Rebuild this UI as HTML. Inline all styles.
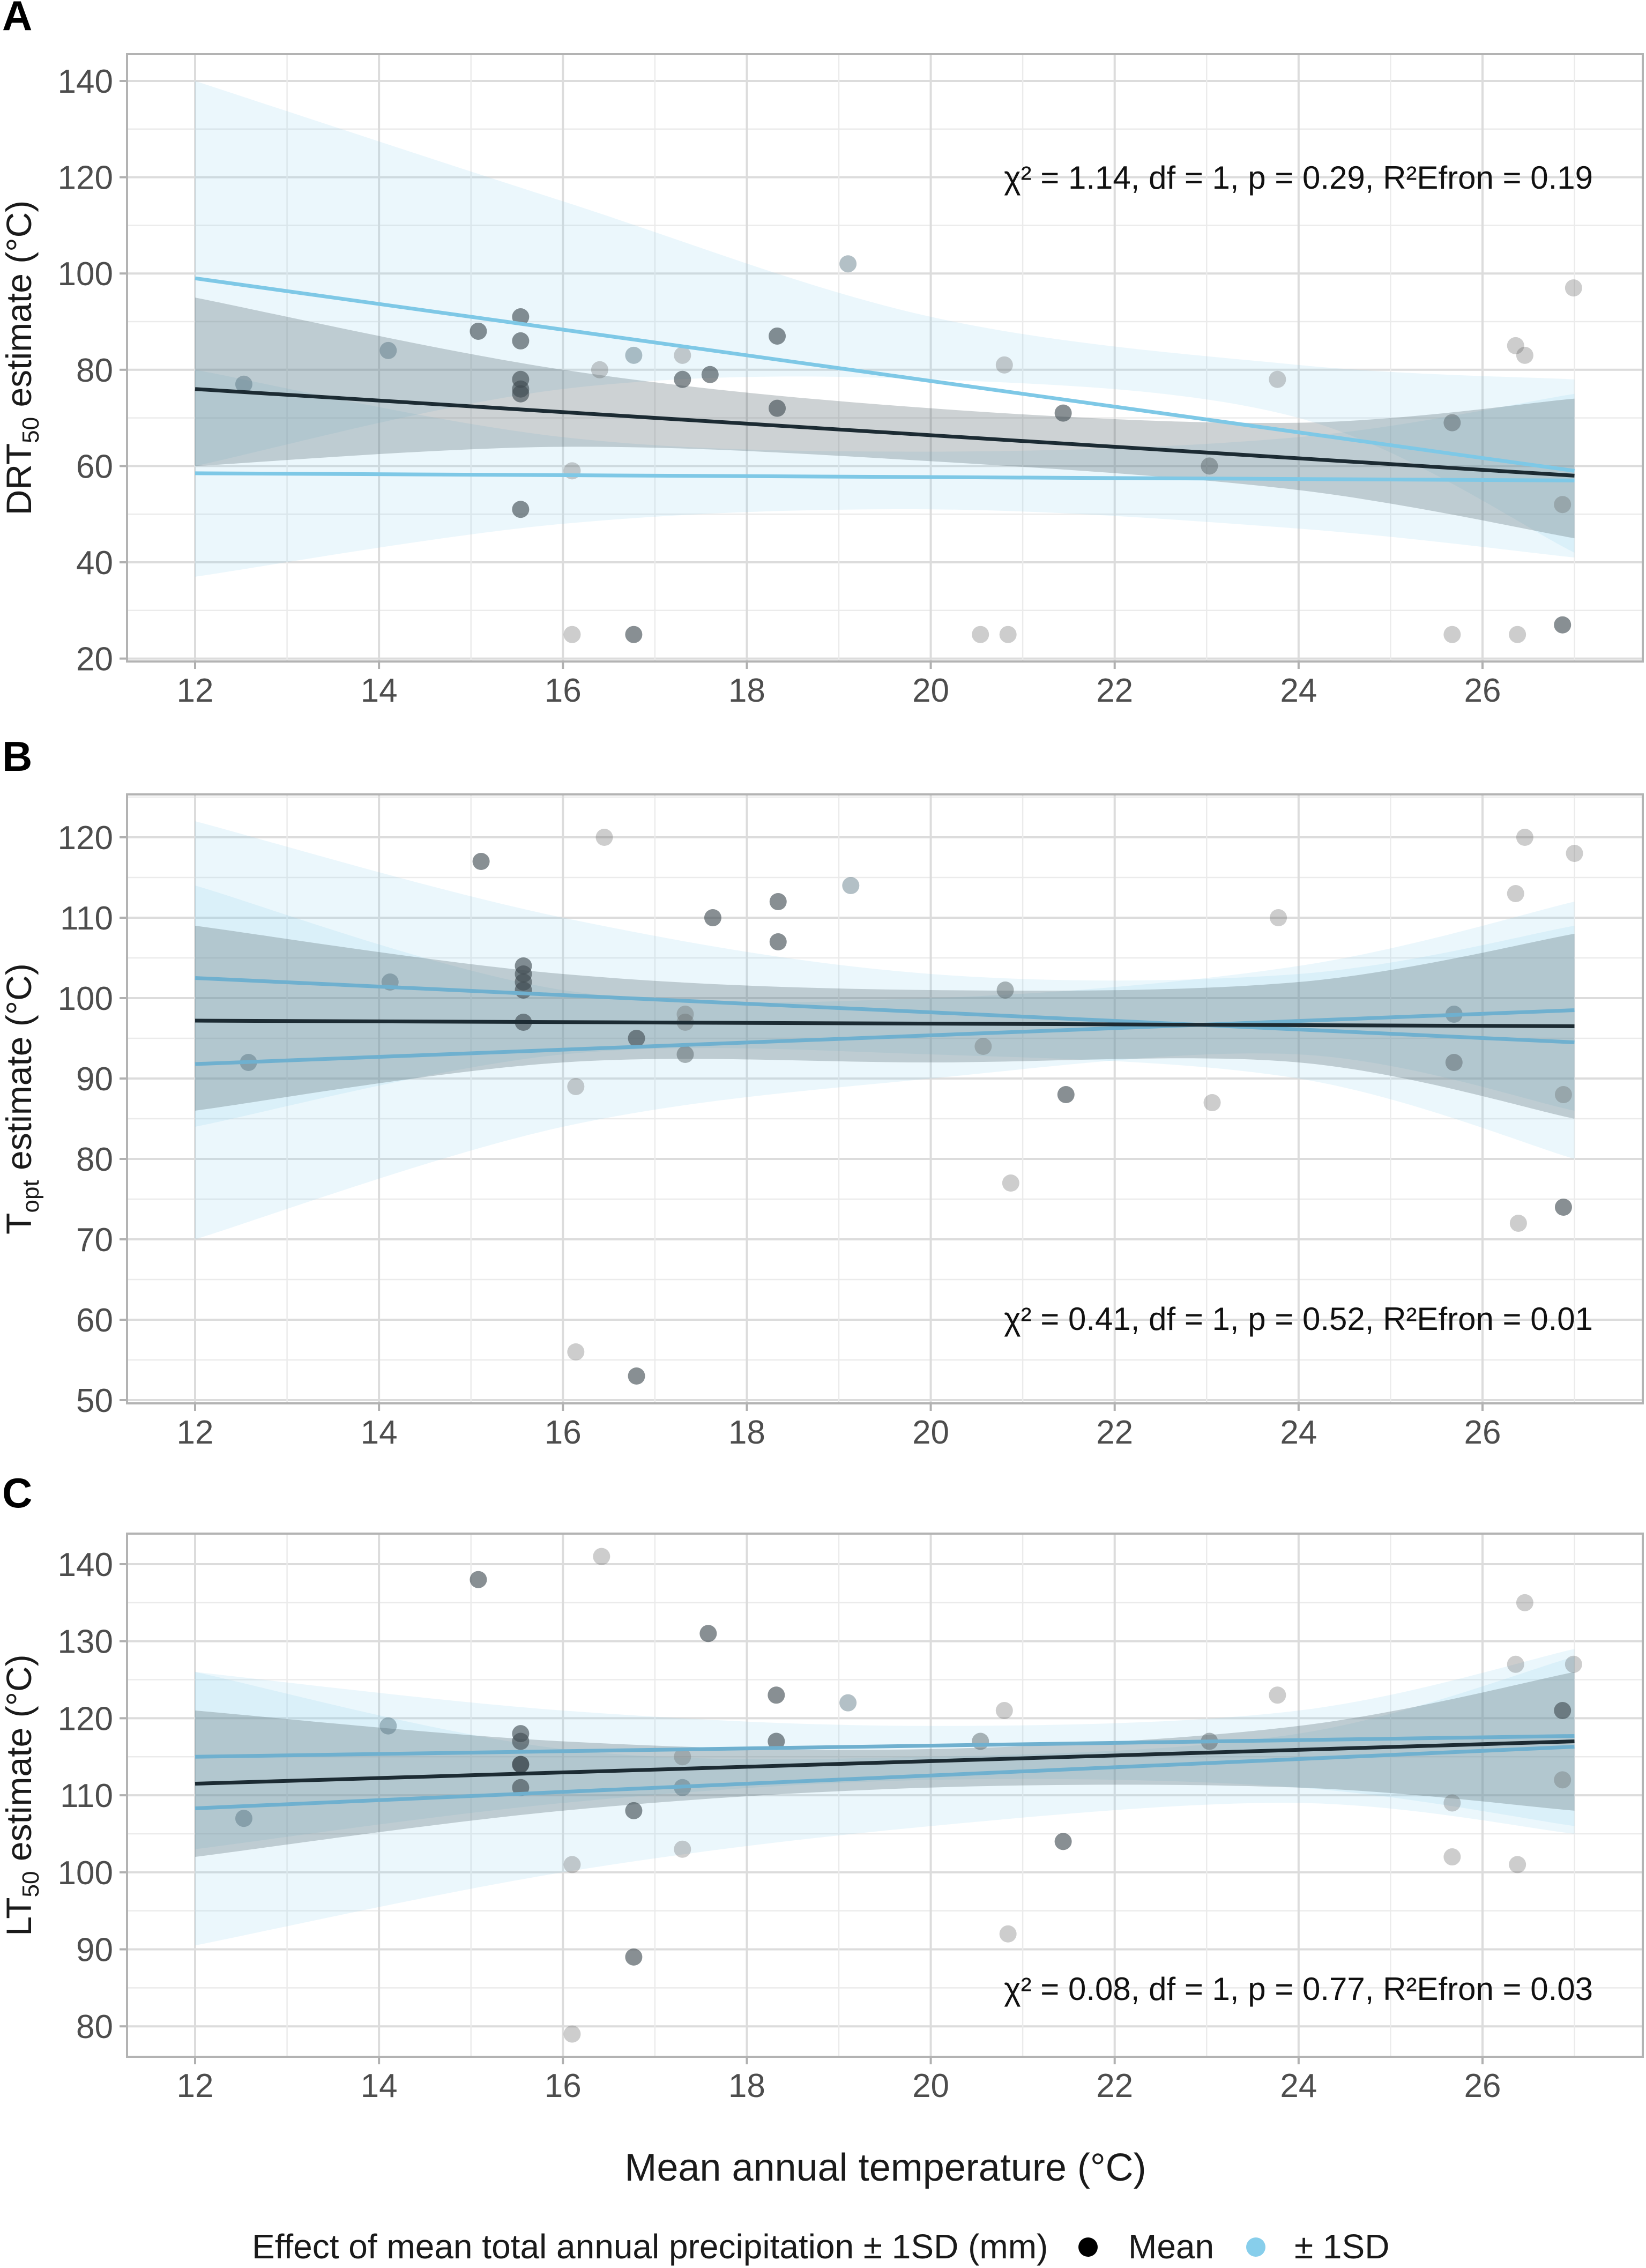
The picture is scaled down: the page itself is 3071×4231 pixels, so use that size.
<!DOCTYPE html>
<html><head><meta charset="utf-8"><style>
html,body{margin:0;padding:0;background:#fff}
svg{display:block;font-family:"Liberation Sans",Arial,sans-serif}
</style></head><body>
<svg id="fig" width="3071" height="4231" viewBox="0 0 3071 4231" xmlns="http://www.w3.org/2000/svg">
<text x="4" y="56" font-size="78" font-weight="bold">A</text>
<text x="4" y="1438" font-size="78" font-weight="bold">B</text>
<text x="4" y="2812" font-size="78" font-weight="bold">C</text>
<text x="1652" y="4068" font-size="72" text-anchor="middle" fill="#1a1a1a">Mean annual temperature (°C)</text>
<g>
<text x="470" y="4213" font-size="64" fill="#1a1a1a">Effect of mean total annual precipitation ± 1SD (mm)</text>
<circle cx="2030" cy="4192" r="18" fill="#000"/>
<text x="2105" y="4213" font-size="64" fill="#1a1a1a">Mean</text>
<circle cx="2343" cy="4192" r="18" fill="#87ceeb"/>
<text x="2415" y="4213" font-size="64" fill="#1a1a1a">± 1SD</text>
</g>
</svg>
<script>
// shared x data
const bandX = [12, 16, 20, 24, 27];
const lineX = [12, 27];
// Panel A
const aX = [12.53,14.1,15.08,15.54,15.54,15.54,15.54,15.54,15.54,16.1,16.1,16.4,16.77,16.77,17.3,17.3,17.6,18.33,18.33,19.1,20.54,20.8,20.84,21.44,23.03,23.77,25.67,25.67,26.36,26.46,26.38,26.87,26.87,26.99];
const aY = [77,84,88,91,86,78,76,75,51,59,25,80,83,25,83,78,79,87,72,102,25,81,25,71,60,78,69,25,85,83,25,52,27,97];
const aShade = ['b','b','d','d','d','d','d','d','d','l','l','l','b','d','l','d','d','d','d','b','l','l','l','d','m','l','m','l','l','l','l','l','d','l'];
const aMean = [76, 58];
const aUpper = [99, 59];
const aLower = [58.5, 57];
const aMeanLo = [60,64,61,55,45], aMeanHi = [95,80,72,69,74];
const aUpLo = [60,76,78,70,42], aUpHi = [140,115,91,81,78];
const aLowLo = [37,48,51,47,41], aLowHi = [80,66,63,66,75];
const aYTicks = [20,40,60,80,100,120,140];
const aStat = "χ² = 1.14, df = 1, p = 0.29, R²Efron = 0.19";
// Panel B
const bX = [12.58,14.12,15.11,15.57,15.57,15.57,15.57,15.57,16.14,16.14,16.45,16.8,16.8,17.33,17.33,17.33,17.63,18.34,18.34,19.13,20.57,20.81,20.87,21.47,23.06,23.78,25.69,25.69,26.36,26.46,26.39,26.88,26.88,27.0];
const bY = [92,102,117,104,103,102,101,97,89,56,120,95,53,98,97,93,110,112,107,114,94,101,77,88,87,110,98,92,113,120,72,88,74,118];
const bShade = ['b','b','d','d','d','d','d','d','l','l','l','d','d','l','l','m','d','d','d','b','l','m','l','d','l','l','b','m','l','l','l','l','d','l'];
const bMean = [97.2, 96.5];
const bUpper = [102.5, 94.5];
const bLower = [91.8, 98.5];
const bMeanLo = [86,92,92,92,85], bMeanHi = [109,103,101,102,108];
const bUpLo = [84,93,93,90,80], bUpHi = [122,110,103,103,109];
const bLowLo = [70,84,90,93,86], bLowHi = [114,101,100,104,112];
const bYTicks = [50,60,70,80,90,100,110,120];
const bStat = "χ² = 0.41, df = 1, p = 0.52, R²Efron = 0.01";
// Panel C
const cX = [12.53,14.1,15.08,15.54,15.54,15.54,15.54,15.54,16.1,16.1,16.42,16.77,16.77,17.3,17.3,17.3,17.58,18.32,18.32,19.1,20.54,20.8,20.84,21.44,23.03,23.77,25.67,25.67,26.36,26.46,26.38,26.87,26.87,26.99];
const cY = [107,119,138,118,117,114,114,111,101,79,141,108,89,115,111,103,131,123,117,122,117,121,92,104,117,123,109,102,127,135,101,121,112,127];
const cShade = ['b','b','d','d','d','d','d','d','l','l','l','d','d','l','b','l','d','d','d','b','m','l','l','d','m','l','l','l','l','l','l','d','l','l'];
const cMean = [111.5, 117];
const cUpper = [115, 117.7];
const cLower = [108.3, 116.3];
const cMeanLo = [102,108,111,111,108], cMeanHi = [121,117,116,119,126];
const cUpLo = [103,109,112,111,106], cUpHi = [126,121,119,121,129];
const cLowLo = [90.5,100,106,109,105], cLowHi = [126,116,115,118,128];
const cYTicks = [80,90,100,110,120,130,140];
const cStat = "χ² = 0.08, df = 1, p = 0.77, R²Efron = 0.03";
const xTicks = [12,14,16,18,20,22,24,26];

const NS = "http://www.w3.org/2000/svg";
const svg = document.getElementById('fig');
function mk(tag, attrs, parent){const e=document.createElementNS(NS,tag);for(const k in attrs)e.setAttribute(k,attrs[k]);(parent||svg).appendChild(e);return e;}
const L = 237, R = 3065;
function xs(v){return 364 + (v-12)*171.57;}
const shadeOp = {d:0.62,m:0.45,l:0.3,b:0.42};
const shadeCol = {d:'#3f4a50',m:'#505a60',l:'#5a5a5a',b:'#4a6878'};
const defs = mk('defs',{});
let pid = 0;

// Catmull-Rom smooth path segment through pts (continuing a path)
function smooth(pts){
  let d='';
  for(let i=0;i<pts.length-1;i++){
    const p0=pts[Math.max(i-1,0)],p1=pts[i],p2=pts[i+1],p3=pts[Math.min(i+2,pts.length-1)];
    const c1=[p1[0]+(p2[0]-p0[0])/6,p1[1]+(p2[1]-p0[1])/6];
    const c2=[p2[0]-(p3[0]-p1[0])/6,p2[1]-(p3[1]-p1[1])/6];
    d+=' C'+c1[0]+','+c1[1]+' '+c2[0]+','+c2[1]+' '+p2[0]+','+p2[1];
  }
  return d;
}

function panel(p){
  const g = mk('g',{});
  
  
  const ys = v => p.y0px + (p.y0 - v) * p.k;
  pid++;
  const cp = mk('clipPath',{id:'clip'+pid},defs);
  mk('rect',{x:L,y:p.top,width:R-L,height:p.bot-p.top},cp);
  const bg = mk('rect',{x:L,y:p.top,width:R-L,height:p.bot-p.top,fill:'#fff'},g);
  
  
  const inner = mk('g',{'clip-path':'url(#clip'+pid+')'},g);
  const step = p.ticks[1]-p.ticks[0];
  for(let m=p.ticks[0]-step/2; m<=p.ticks[p.ticks.length-1]+step/2; m+=step){
    if(ys(m)>p.top && ys(m)<p.bot){
      const ml = mk('line',{x1:L,x2:R,y1:ys(m),y2:ys(m),stroke:'#ebebeb','stroke-width':2.5},inner);
      
      
    }
  }
  for(let i=0;i<p.ticks.length;i++){
    const t=p.ticks[i];
    const gl = mk('line',{x1:L,x2:R,y1:ys(t),y2:ys(t),stroke:'#dcdcdc','stroke-width':4},inner);
    
    
    const tk = mk('line',{x1:L-14,x2:L,y1:ys(t),y2:ys(t),stroke:'#b0b0b0','stroke-width':4},g);
    
    
    const tl = mk('text',{x:L-26,y:ys(t)+22,'font-size':62,'text-anchor':'end',fill:'#4d4d4d'},g);
    tl.textContent=t;
    
    
  }
  for(const t of xTicks){
    const gl = mk('line',{x1:xs(t),x2:xs(t),y1:p.top,y2:p.bot,stroke:'#dcdcdc','stroke-width':4},inner);
    
    
    const ml = mk('line',{x1:xs(t+1),x2:xs(t+1),y1:p.top,y2:p.bot,stroke:'#ebebeb','stroke-width':2.5},inner);
    
    
    const tk = mk('line',{x1:xs(t),x2:xs(t),y1:p.bot,y2:p.bot+14,stroke:'#b0b0b0','stroke-width':4},g);
    
    
    const tl = mk('text',{x:xs(t),y:p.bot+75,'font-size':62,'text-anchor':'middle',fill:'#4d4d4d'},g);
    tl.textContent=t;
    
    
  }
  function band(lo,hi,fill,op,name){
    const top = bandX.map((x,i)=>[xs(x),ys(hi[i])]);
    const bot = bandX.map((x,i)=>[xs(x),ys(lo[i])]).reverse();
    let d='M'+top[0][0]+','+top[0][1]+smooth(top)+' L'+bot[0][0]+','+bot[0][1]+smooth(bot)+'Z';
    const e = mk('path',{d:d,fill:fill,'fill-opacity':op,stroke:'none'},inner);
    
    
  }
  band(p.upLo,p.upHi,'#87ceeb',0.17,'ci-band-plus-1sd');
  band(p.lowLo,p.lowHi,'#87ceeb',0.17,'ci-band-minus-1sd');
  band(p.meanLo,p.meanHi,'#4d5e66',0.28,'ci-band-mean');
  for(let i=0;i<p.xs.length;i++){
    const c = mk('circle',{cx:xs(p.xs[i]),cy:ys(p.ys[i]),r:16,fill:shadeCol[p.sh[i]],'fill-opacity':shadeOp[p.sh[i]]},inner);
    
    
  }
  function line(v,col,name){
    const e = mk('line',{x1:xs(lineX[0]),y1:ys(v[0]),x2:xs(lineX[1]),y2:ys(v[1]),stroke:col,'stroke-width':7},inner);
    
    
  }
  line(p.upper,p.blue,'fit-line-plus-1sd');
  line(p.lower,p.blue,'fit-line-minus-1sd');
  line(p.mean,'#1c2b33','fit-line-mean');
  const st = mk('text',{x:2972,y:p.statY,'font-size':60,'text-anchor':'end',fill:'#111'},g);
  st.textContent=p.stat;
  
  
  const br = mk('rect',{x:L,y:p.top,width:R-L,height:p.bot-p.top,fill:'none',stroke:'#b3b3b3','stroke-width':4},g);
  
  
  const cy=(p.top+p.bot)/2;
  const yt = mk('text',{x:0,y:0,'font-size':66,'text-anchor':'middle',fill:'#1a1a1a',transform:'translate(58,'+cy+') rotate(-90)'},g);
  yt.innerHTML = p.ytitle;
  
  
}
panel({name:'panel-a',top:101,bot:1234,y0:140,y0px:151,k:8.98,ticks:aYTicks,xs:aX,ys:aY,sh:aShade,mean:aMean,upper:aUpper,lower:aLower,meanLo:aMeanLo,meanHi:aMeanHi,upLo:aUpLo,upHi:aUpHi,lowLo:aLowLo,lowHi:aLowHi,stat:aStat,statY:352,blue:'#7ec8e6',ytitle:'DRT<tspan font-size="44" dy="14">50</tspan><tspan dy="-14"> estimate (°C)</tspan>'});
panel({name:'panel-b',top:1482,bot:2618,y0:120,y0px:1562,k:15.0,ticks:bYTicks,xs:bX,ys:bY,sh:bShade,mean:bMean,upper:bUpper,lower:bLower,meanLo:bMeanLo,meanHi:bMeanHi,upLo:bUpLo,upHi:bUpHi,lowLo:bLowLo,lowHi:bLowHi,stat:bStat,statY:2481,blue:'#6fb0cf',ytitle:'T<tspan font-size="44" dy="14">opt</tspan><tspan dy="-14"> estimate (°C)</tspan>'});
panel({name:'panel-c',top:2861,bot:3837,y0:140,y0px:2918,k:14.37,ticks:cYTicks,xs:cX,ys:cY,sh:cShade,mean:cMean,upper:cUpper,lower:cLower,meanLo:cMeanLo,meanHi:cMeanHi,upLo:cUpLo,upHi:cUpHi,lowLo:cLowLo,lowHi:cLowHi,stat:cStat,statY:3731,blue:'#6fb0cf',ytitle:'LT<tspan font-size="44" dy="14">50</tspan><tspan dy="-14"> estimate (°C)</tspan>'});
</script>
</body></html>
